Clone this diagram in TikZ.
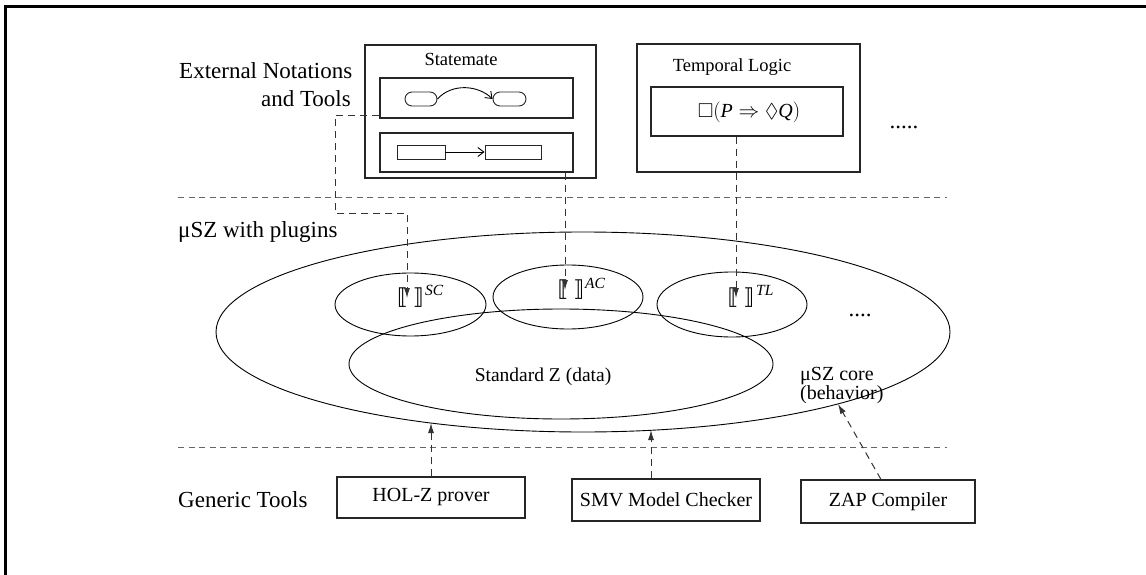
\documentclass[tikz,border=0pt]{standalone}
\usepackage{amssymb}
\usepackage{fontspec}
\setmainfont{Liberation Serif}
\newfontfamily\symfont{DejaVu Sans}
\usetikzlibrary{shapes.geometric, arrows.meta, calc}

\begin{document}
\begin{tikzpicture}[x=1pt, y=-1pt,
  box/.style={draw=black!85, line width=1.1pt, inner sep=0pt, rectangle},
  thinbox/.style={draw=black!85, line width=0.9pt, inner sep=0pt, rectangle},
  oval/.style={draw=black, line width=0.9pt, ellipse, inner sep=0pt},
  sep/.style={draw=black!60, line width=1pt, dash pattern=on 6pt off 4.5pt},
  link/.style={draw=black!80, line width=1pt, dash pattern=on 7pt off 5pt,
               -{Latex[length=10pt,width=6pt]}},
  barb/.style={line width=0.9pt, -{Straight Barb[length=6pt,width=9pt]}},
  biglabel/.style={font=\fontsize{23}{27}\selectfont, inner sep=0pt},
  title/.style={font=\fontsize{18.5}{22}\selectfont, inner sep=0pt},
  toollabel/.style={font=\fontsize{20}{24}\selectfont},
  brk/.style={font=\symfont\fontsize{22}{22}\selectfont, inner sep=0pt},
  supl/.style={font=\fontsize{15.5}{18}\selectfont\itshape, inner sep=0pt, anchor=base west},
]
\useasboundingbox (0,0) rectangle (1146,575);

% page frame (top and left edges only)
\draw[line width=3pt] (5.3,575) -- (5.3,6.5) -- (1146,6.5);

% layer labels
\node[biglabel, anchor=base west] (extA) at (179,79) {External Notations};
\node[biglabel, anchor=base east] (extB) at (351,107) {and Tools};
\node[biglabel, anchor=base west] (plug) at (178,237) {μSZ with plugins};
\node[biglabel, anchor=base west] (gen) at (178,507) {Generic Tools};

% layer separators
\draw[sep] (178,197) -- (947,197);
\draw[sep] (178,447) -- (947,447);

% Statemate
\node[box, minimum width=231pt, minimum height=133pt] (stm) at (480.5,111.5) {};
\node[title] (stmT) at (461,59) {Statemate};
\node[box, minimum width=193pt, minimum height=40pt] (in1) at (476.5,98) {};
\node[box, minimum width=193pt, minimum height=39pt] (in2) at (476.5,152.5) {};
\node[thinbox, rounded corners=7pt, minimum width=32pt, minimum height=14pt] (s1) at (421,99) {};
\node[thinbox, rounded corners=7pt, minimum width=33pt, minimum height=14pt] (s2) at (509.5,99) {};
\draw[barb] (s1.east) .. controls (452,83) and (478,85) .. (s2.west);
\node[thinbox, minimum width=48pt, minimum height=14pt] (r1) at (421,152) {};
\node[thinbox, minimum width=56pt, minimum height=14pt] (r2) at (513,152) {};
\draw[barb] (r1.east) -- (r2.west);

% Temporal Logic
\node[box, minimum width=223pt, minimum height=128pt] (tl) at (748.5,108) {};
\node[title] (tlT) at (732,67) {Temporal Logic};
\node[box, minimum width=192pt, minimum height=49pt] (tlin) at (747,111.5) {};
\node[font=\fontsize{20}{24}\selectfont, inner sep=0pt] (ltl) at (749,112)
  {$\Box(\mathit{P} \Rightarrow \Diamond \mathit{Q})$};
\node[biglabel] (moreA) at (904,127) {.....};

% muSZ core and plugins
\node[oval, minimum width=734pt, minimum height=200pt] (core) at (583,332) {};
\node[oval, minimum width=151pt, minimum height=63pt] (scE) at (410.5,304.5) {};
\node[oval, minimum width=150pt, minimum height=64pt] (acE) at (568,297) {};
\node[oval, minimum width=150pt, minimum height=65pt] (tlE) at (732,304.5) {};
\node[oval, minimum width=424pt, minimum height=110pt] (stdZ) at (561,364) {};
\node[font=\fontsize{19.5}{23}\selectfont, inner sep=0pt] (stdT) at (543,377) {Standard Z (data)};
\node[font=\fontsize{20}{19}\selectfont, inner sep=0pt, anchor=north west, align=left]
  (coreT) at (800,367) {μSZ core\\(behavior)};
\node[biglabel] (moreB) at (860,315) {....};

% semantic brackets
\node[brk] (scB) at (410.5,298) {⟦\hspace{5pt}⟧};
\node[supl] (scS) at (425,295) {SC};
\node[brk] (acB) at (571,290) {⟦\hspace{5pt}⟧};
\node[supl] (acS) at (585,288) {AC};
\node[brk] (tlB) at (741,298) {⟦\hspace{5pt}⟧};
\node[supl] (tlS) at (756,295) {TL};

\coordinate (scTip) at ([xshift=-3.5pt]scB.center);
\coordinate (acTip) at ([xshift=-6pt]acB.center);
\coordinate (tlTip) at ([xshift=-5pt]tlB.center);

% translations into plugins
\draw[link] ([yshift=3pt]in1.south west) -| (335,213) -| (scTip);
\draw[link] (acTip |- in2.south) -- (acTip);
\draw[link] (tlTip |- tlin.south) -- (tlTip);

% generic tools
\node[box, toollabel, minimum width=188pt, minimum height=41pt] (hol) at (431,497.5) {HOL-Z prover};
\node[box, toollabel, minimum width=188pt, minimum height=42pt] (smv) at (666,500) {SMV Model Checker};
\node[box, toollabel, minimum width=174pt, minimum height=43pt] (zap) at (888,501.5) {ZAP Compiler};

\coordinate (holTip) at (431,423);
\coordinate (smvTip) at (651,430);
\coordinate (zapTip) at (838,404);
\draw[link] (hol.north) -- (holTip);
\draw[link] (smvTip |- smv.north) -- (smvTip);
\draw[link] ([xshift=-7pt]zap.north) -- (zapTip);
\end{tikzpicture}
\end{document}
